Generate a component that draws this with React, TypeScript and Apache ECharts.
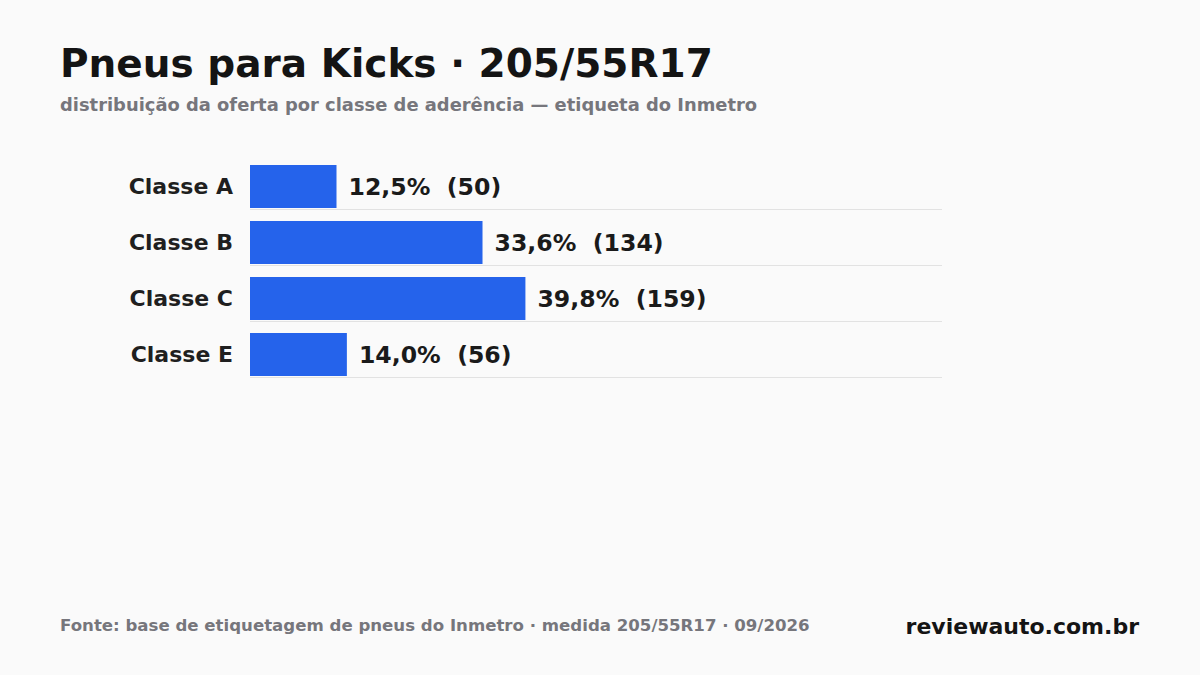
import { useEffect, useRef } from "react";
import * as echarts from "echarts";

// classes de aderência (etiqueta Inmetro)
const categories = ["Classe A", "Classe B", "Classe C", "Classe E"];
const shares = [12.5, 33.6, 39.8, 14.0];
const counts = [50, 134, 159, 56];
const spacer = [0, 0, 0, 0];

const FONT = "'DejaVu Sans', sans-serif";

const fmtLabel = (v: number, i: number) =>
  `${v.toFixed(1).replace(".", ",")}%  (${counts[i]})`;

export default function App() {
  const chartRef = useRef<HTMLDivElement>(null);

  useEffect(() => {
    document.body.style.margin = "0";
    if (!chartRef.current) return;
    const chart = echarts.init(chartRef.current, undefined, { renderer: "svg" });

    chart.setOption({
      animation: false,
      backgroundColor: "#fafafa",
      textStyle: { fontFamily: FONT },
      grid: { left: 250, right: 258, top: 153, height: 224, containLabel: false },
      xAxis: { type: "value", min: 0, max: 100, show: false },
      yAxis: {
        type: "category",
        data: categories,
        inverse: true,
        axisLine: { show: false },
        axisTick: { show: false },
        axisLabel: {
          margin: 17,
          fontSize: 22,
          fontWeight: "bold",
          color: "#1f1f1f",
          fontFamily: FONT,
          verticalAlign: "top",
          lineHeight: 11,
        },
        splitLine: {
          show: true,
          showMinLine: false,
          lineStyle: { color: "#e2e2e2", width: 1 },
        },
      },
      series: [
        {
          // empurra a barra real um pouco para baixo dentro da faixa
          type: "bar",
          data: spacer,
          barWidth: 43,
          barGap: "-74.4%",
          silent: true,
          itemStyle: { color: "rgba(0,0,0,0)" },
        },
        {
          type: "bar",
          data: shares,
          barWidth: 43,
          itemStyle: { color: "#2563eb" },
          label: {
            show: true,
            position: "right",
            distance: 12,
            fontSize: 23.6,
            fontWeight: "bold",
            color: "#1a1a1a",
            fontFamily: FONT,
            formatter: (p: any) => fmtLabel(p.value, p.dataIndex),
          },
        },
      ],
      graphic: [
        {
          type: "text",
          left: 60,
          top: 44,
          style: {
            text: "Pneus para Kicks · 205/55R17",
            font: `bold 39px ${FONT}`,
            fill: "#141414",
          },
        },
        {
          type: "text",
          left: 60,
          top: 95,
          style: {
            text: "distribuição da oferta por classe de aderência — etiqueta do Inmetro",
            font: `bold 17.9px ${FONT}`,
            fill: "#76767c",
          },
        },
        {
          type: "text",
          left: 60,
          top: 617,
          style: {
            text: "Fonte: base de etiquetagem de pneus do Inmetro · medida 205/55R17 · 09/2026",
            font: `bold 16.6px ${FONT}`,
            fill: "#76767c",
          },
        },
        {
          type: "text",
          right: 61,
          top: 615,
          style: {
            text: "reviewauto.com.br",
            font: `bold 22px ${FONT}`,
            fill: "#141414",
          },
        },
      ],
    });

    return () => chart.dispose();
  }, []);

  return <div ref={chartRef} style={{ width: 1200, height: 675 }} />;
}
